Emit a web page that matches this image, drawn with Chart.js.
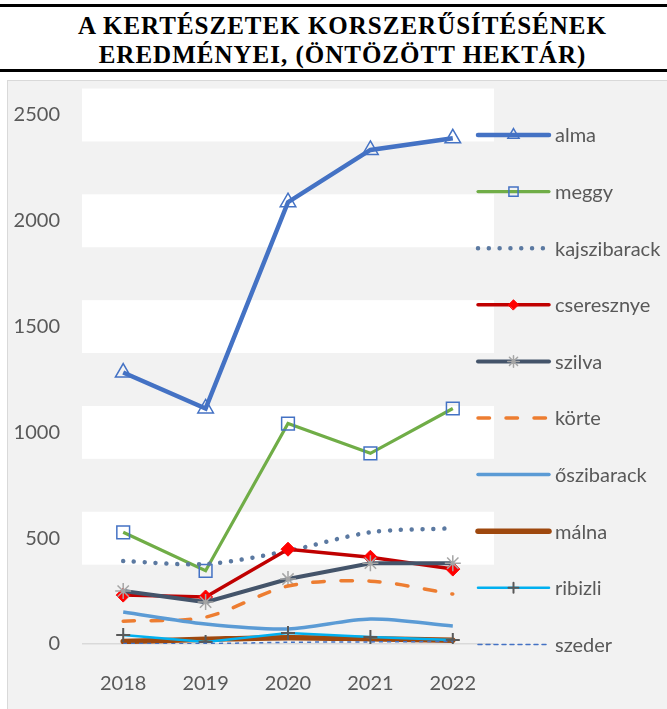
<!DOCTYPE html>
<html lang="hu">
<head>
<meta charset="UTF-8">
<title>A kertészetek korszerűsítésének eredményei</title>
<script src="https://cdn.jsdelivr.net/npm/chart.js"></script>
<style>
  body { margin: 0; width: 667px; height: 709px; overflow: hidden; background: #fff; position: relative; }
  /* cím két fekete vonal között */
  .cim {
    position: absolute; left: 0; top: 4px; width: 649px; height: 58px;
    padding: 4px 0 0 18px;
    border-top: 3px solid #000; border-bottom: 3px solid #000;
    font-family: "Liberation Serif", "DejaVu Serif", serif; font-weight: bold;
    font-size: 25px; line-height: 29px; letter-spacing: 1px; text-align: center; color: #000;
    display: flex; flex-direction: column; justify-content: center;
  }
  .doboz {
    position: absolute; left: 7px; top: 80px; width: 660px; height: 629px;
    border-top: 1px solid #d9d9d9; border-left: 1px solid #d9d9d9;
    background: #f2f2f2;
  }
  #grafikon { display: block; }
</style>
</head>
<body>
<div class="cim"><div>A KERTÉSZETEK KORSZERŰSÍTÉSÉNEK</div><div>EREDMÉNYEI, (ÖNTÖZÖTT HEKTÁR)</div></div>
<div class="doboz"><canvas id="grafikon" width="659" height="628"></canvas></div>

<script>
// adatok (hektár)
const evek = ['2018', '2019', '2020', '2021', '2022'];
const alma = [1283, 1113, 2088, 2335, 2390];
const meggy = [528, 346, 1042, 901, 1113];
const kajszibarack = [392, 378, 440, 528, 547];
const cseresznye = [231, 222, 448, 410, 354];
const szilva = [250, 198, 307, 382, 382];
const korte = [108, 127, 274, 297, 236];
const oszibarack = [151, 94, 71, 118, 85];
const malna = [12, 22, 30, 25, 18];
const ribizli = [42, 9, 52, 33, 19];
const szeder = [2, 2, 8, 10, 12];

const szurke = '#595959';
const betu = 'Lato, "Liberation Sans", sans-serif';

const sorozatok = [
  { label: 'alma', data: alma, borderColor: '#4472C4', borderWidth: 4.5,
    pointStyle: 'triangle', pointRadius: 9, pointBorderColor: '#4472C4', pointBorderWidth: 1.5 },
  { label: 'meggy', data: meggy, borderColor: '#70AD47', borderWidth: 3.2,
    pointStyle: 'rect', pointRadius: 9, pointBorderColor: '#4472C4', pointBorderWidth: 1.5 },
  { label: 'kajszibarack', data: kajszibarack, borderColor: '#5b79a1', borderWidth: 4.5,
    borderDash: [0.01, 10.8], borderCapStyle: 'round', tension: 0.3, pointRadius: 0 },
  { label: 'cseresznye', data: cseresznye, borderColor: '#C00000', borderWidth: 3.5,
    pointStyle: 'rectRot', pointRadius: 7, pointBorderColor: '#FF0000', pointBackgroundColor: '#FF0000', pointBorderWidth: 1 },
  { label: 'szilva', data: szilva, borderColor: '#44546A', borderWidth: 4,
    pointStyle: 'star', pointRadius: 8, pointBorderColor: '#A5A5A5', pointBorderWidth: 1.5 },
  { label: 'körte', data: korte, borderColor: '#ED7D31', borderWidth: 3.5,
    borderDash: [11.5, 16.5], borderCapStyle: 'round', tension: 0.3, pointRadius: 0 },
  { label: 'őszibarack', data: oszibarack, borderColor: '#5B9BD5', borderWidth: 3.5,
    tension: 0.3, pointRadius: 0 },
  { label: 'málna', data: malna, borderColor: '#9E480E', borderWidth: 5.5,
    borderCapStyle: 'round', tension: 0.3, pointRadius: 0 },
  { label: 'ribizli', data: ribizli, borderColor: '#00B0F0', borderWidth: 2.5,
    pointStyle: 'cross', pointRadius: 7, pointBorderColor: szurke, pointBorderWidth: 2 },
  { label: 'szeder', data: szeder, borderColor: '#4472C4', borderWidth: 1.5,
    borderDash: [4, 4], tension: 0.3, pointRadius: 0 }
];

// később felvett sorozat kerül felülre, mint az Excelben
sorozatok.forEach((s, i) => {
  s.order = sorozatok.length - i;
  s.fill = false;
  s.pointBackgroundColor = s.pointBackgroundColor || 'rgba(0,0,0,0)';
  s.pointHoverRadius = s.pointRadius;
});

// fehér sávok a rácsvonalak helyén
const savok = {
  id: 'savok',
  beforeDraw(chart) {
    const { ctx, chartArea, scales } = chart;
    const y = scales.y;
    ctx.save();
    ctx.fillStyle = '#ffffff';
    y.ticks.forEach(t => {
      if (t.value <= 0) return;
      const top = y.getPixelForValue(t.value + 125);
      const bottom = y.getPixelForValue(t.value - 125);
      ctx.fillRect(chartArea.left, top, chartArea.right - chartArea.left, bottom - top);
    });
    ctx.restore();
  }
};

// jelmagyarázat jobb oldalon, vonalstílussal és jelölővel
const jelmagyarazat = {
  id: 'jelmagyarazat',
  afterDraw(chart) {
    const ctx = chart.ctx;
    const x0 = 470, x1 = 541, xt = 547;
    chart.data.datasets.forEach((ds, i) => {
      const y = 54 + i * 56.6;
      ctx.save();
      ctx.strokeStyle = ds.borderColor;
      ctx.lineWidth = ds.borderWidth;
      ctx.lineCap = ds.borderCapStyle || 'round';
      ctx.setLineDash(ds.borderDash || []);
      ctx.beginPath();
      ctx.moveTo(x0, y);
      ctx.lineTo(x1, y);
      ctx.stroke();
      ctx.setLineDash([]);
      if (ds.pointRadius > 0) {
        ctx.strokeStyle = ds.pointBorderColor;
        ctx.fillStyle = ds.pointBackgroundColor;
        ctx.lineWidth = ds.pointBorderWidth;
        Chart.helpers.drawPoint(ctx, {
          pointStyle: ds.pointStyle, radius: ds.pointRadius * 0.72,
          borderWidth: ds.pointBorderWidth, rotation: 0
        }, (x0 + x1) / 2, y);
      }
      ctx.fillStyle = szurke;
      ctx.font = '20px ' + betu;
      ctx.textAlign = 'left';
      ctx.textBaseline = 'middle';
      ctx.fillText(ds.label, xt, y + 1);
      ctx.restore();
    });
  }
};

new Chart(document.getElementById('grafikon'), {
  type: 'line',
  data: { labels: evek, datasets: sorozatok },
  options: {
    responsive: false,
    animation: false,
    layout: { padding: { top: 33, right: 173, left: 0, bottom: 0 } },
    plugins: { legend: { display: false }, tooltip: { enabled: false } },
    scales: {
      x: {
        offset: true,
        grid: { display: false },
        border: { display: false },
        ticks: { color: szurke, font: { family: betu, size: 20 }, padding: 20 },
        afterFit(s) { s.height = 65; }
      },
      y: {
        min: 0, max: 2500,
        grid: {
          drawTicks: false,
          lineWidth: 1.5,
          color: c => c.tick.value === 0 ? '#d9d9d9' : 'rgba(0,0,0,0)'
        },
        border: { display: false },
        ticks: { stepSize: 500, color: szurke, font: { family: betu, size: 20 }, padding: 22,
          callback: v => String(v) },
        afterFit(s) { s.width = 74; }
      }
    }
  },
  plugins: [savok, jelmagyarazat]
});
</script>
</body>
</html>
